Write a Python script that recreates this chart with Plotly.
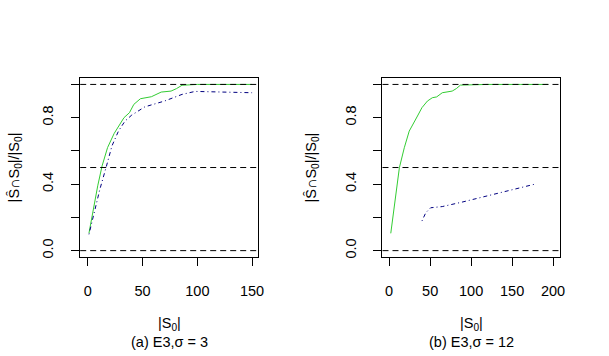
import plotly.graph_objects as go

# Panel (a) E3, sigma = 3
a_green_x = [1, 5, 9, 13, 18, 24, 28, 33, 38, 42, 48, 58, 67, 76, 81, 86, 100, 125, 150]
a_green_y = [0.105, 0.25, 0.39, 0.51, 0.62, 0.705, 0.75, 0.80, 0.83, 0.88, 0.914, 0.926, 0.954, 0.96, 0.975, 0.995, 1.0, 1.0, 1.0]
a_blue_x = [1, 6, 11, 17, 22, 28, 34, 40, 52, 70, 86, 98, 125, 150]
a_blue_y = [0.098, 0.23, 0.37, 0.509, 0.63, 0.72, 0.78, 0.815, 0.865, 0.9, 0.94, 0.958, 0.954, 0.95]

# Panel (b) E3, sigma = 12
b_green_x = [2, 8.5, 12.5, 18.5, 24.5, 34.6, 40, 46.7, 52.7, 58, 64.8, 76.9, 82, 87, 120, 160, 194]
b_green_y = [0.104, 0.349, 0.499, 0.619, 0.719, 0.81, 0.86, 0.90, 0.92, 0.925, 0.95, 0.96, 0.975, 0.996, 1.0, 1.0, 1.0]
b_blue_x = [40, 44.7, 50.7, 64.8, 89, 129, 177]
b_blue_y = [0.178, 0.228, 0.258, 0.265, 0.292, 0.339, 0.399]

ref_lines = [0.0, 0.5, 1.0]
y_ticks = [0, 0.2, 0.4, 0.6, 0.8, 1.0]
y_ticktext = ["0.0", "", "0.4", "", "0.8", ""]
a_xticks = [0, 50, 100, 150]
b_xticks = [0, 50, 100, 150, 200]

GREEN = "#33CC33"
BLUE = "#000080"
FONT = "Liberation Sans, Arial, sans-serif"
FS = 14.5

W, H = 609, 356
fig = go.Figure()

fig.add_trace(go.Scatter(x=a_green_x, y=a_green_y, mode="lines",
                         line=dict(color=GREEN, width=1), xaxis="x", yaxis="y"))
fig.add_trace(go.Scatter(x=a_blue_x, y=a_blue_y, mode="lines",
                         line=dict(color=BLUE, width=1, dash="1px,3px,4px,3px"), xaxis="x", yaxis="y"))
fig.add_trace(go.Scatter(x=b_green_x, y=b_green_y, mode="lines",
                         line=dict(color=GREEN, width=1), xaxis="x2", yaxis="y2"))
fig.add_trace(go.Scatter(x=b_blue_x, y=b_blue_y, mode="lines",
                         line=dict(color=BLUE, width=1, dash="1px,3px,4px,3px"), xaxis="x2", yaxis="y2"))

ybot, ytop = (H - 258) / H, (H - 78) / H
dom1 = [81 / W, 261 / W]
dom2 = [386.3 / W, 565.7 / W]

axis_common = dict(showgrid=False, zeroline=False, showline=True, linecolor="black",
                   linewidth=1, mirror=True, ticks="outside", ticklen=8, tickwidth=1,
                   tickcolor="black", tickfont=dict(family=FONT, size=FS, color="black"))

fig.update_layout(
    width=W, height=H, margin=dict(l=0, r=0, t=0, b=0),
    paper_bgcolor="white", plot_bgcolor="white", showlegend=False,
    xaxis=dict(domain=dom1, range=[-7, 155.8], tickvals=a_xticks, anchor="y",
               ticklabelstandoff=12, **axis_common),
    yaxis=dict(domain=[ybot, ytop], range=[-0.04, 1.04], tickvals=y_ticks,
               ticktext=y_ticktext, tickangle=-90, anchor="x", ticklabelstandoff=12,
               **axis_common),
    xaxis2=dict(domain=dom2, range=[-8.1, 208.6], tickvals=b_xticks, anchor="y2",
                ticklabelstandoff=12, **axis_common),
    yaxis2=dict(domain=[ybot, ytop], range=[-0.04, 1.04], tickvals=y_ticks,
                ticktext=y_ticktext, tickangle=-90, anchor="x2", ticklabelstandoff=12,
                **axis_common),
)

shapes = []
for xr, yr in [("x domain", "y"), ("x2 domain", "y2")]:
    for v in ref_lines:
        shapes.append(dict(type="line", xref=xr, yref=yr, x0=0, x1=1, y0=v, y1=v,
                           line=dict(color="black", width=1, dash="6px,4px"), layer="above"))
fig.update_layout(shapes=shapes)

ytitle = "|Ŝ∩S<sub>0</sub>|/|S<sub>0</sub>|"
ann = []
for xc, yc, sub in [(171, 15, "(a) E3,σ = 3"), (476, 315, "(b) E3,σ = 12")]:
    ann.append(dict(text="|S<sub>0</sub>|", x=xc / W, y=(H - 325) / H, xref="paper", yref="paper",
                    showarrow=False, font=dict(family=FONT, size=FS, color="black"),
                    xanchor="center", yanchor="middle"))
    ann.append(dict(text=sub, x=xc / W, y=(H - 342.5) / H, xref="paper", yref="paper",
                    showarrow=False, font=dict(family=FONT, size=FS, color="black"),
                    xanchor="center", yanchor="middle"))
    ann.append(dict(text=ytitle, x=yc / W, y=(H - 168) / H, xref="paper", yref="paper",
                    showarrow=False, textangle=-90, font=dict(family=FONT, size=FS, color="black"),
                    xanchor="center", yanchor="middle"))
fig.update_layout(annotations=ann)

fig.write_html("out.html", config={"displayModeBar": False},
               post_script="document.body.style.margin='0';document.body.style.overflow='hidden';")
